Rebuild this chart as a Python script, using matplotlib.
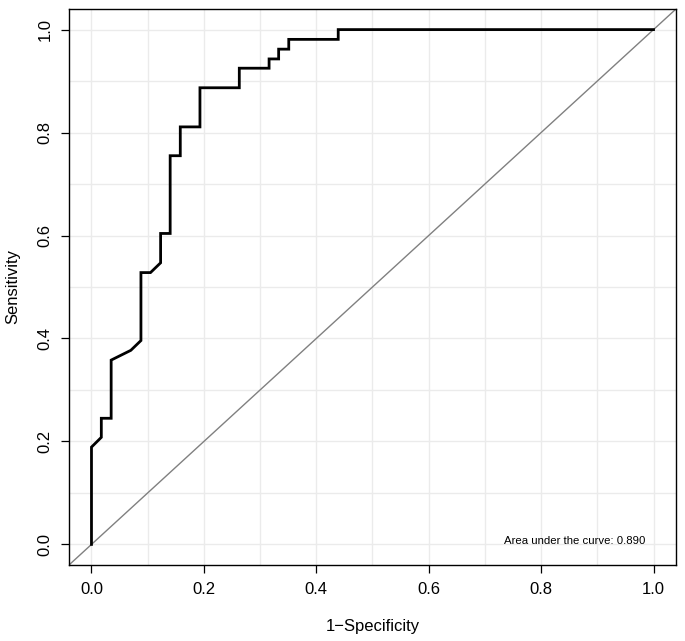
import matplotlib
matplotlib.use("Agg")
import matplotlib.pyplot as plt
import numpy as np

fpr = [0.0, 0.0, 0.0175, 0.0175, 0.035, 0.035, 0.070, 0.088, 0.088, 0.105, 0.123, 0.123,
       0.140, 0.140, 0.158, 0.158, 0.193, 0.193, 0.263, 0.263, 0.316, 0.316, 0.333, 0.333,
       0.351, 0.351, 0.439, 0.439, 1.0]
tpr = [0.0, 0.189, 0.208, 0.245, 0.245, 0.358, 0.377, 0.396, 0.528, 0.528, 0.547, 0.604,
       0.604, 0.755, 0.755, 0.811, 0.811, 0.887, 0.887, 0.925, 0.925, 0.943, 0.943, 0.962,
       0.962, 0.981, 0.981, 1.0, 1.0]
auc = 0.890
ticks = [0.0, 0.2, 0.4, 0.6, 0.8, 1.0]

plt.rcParams['font.family'] = ['Liberation Sans', 'DejaVu Sans']
fig = plt.figure(figsize=(6.85, 6.41), dpi=100)
ax = fig.add_axes([69/685, 1-565/641, (676-69)/685, (565-9)/641])
ax.set_xlim(-0.04, 1.04)
ax.set_ylim(-0.04, 1.04)

for g in np.arange(0, 1.01, 0.1):
    ax.axvline(g, color='#ebebeb', lw=1.0, zorder=0)
    ax.axhline(g, color='#ebebeb', lw=1.0, zorder=0)

ax.axline((0, 0), (1, 1), color='#808080', lw=1.0, zorder=1)
ax.plot(fpr, tpr, color='black', lw=2.0, zorder=2, solid_joinstyle='miter')

ax.set_xticks(ticks)
ax.set_yticks(ticks)
ax.set_xticklabels([f"{t:.1f}" for t in ticks])
ax.set_yticklabels([f"{t:.1f}" for t in ticks], rotation=90, va='center')
ax.tick_params(direction='out', length=6, width=0.9, labelsize=12, pad=6)
for s in ax.spines.values():
    s.set_linewidth(1.0)

ax.set_xlabel("1\u2212Specificity", fontsize=12, labelpad=16)
ax.set_ylabel("Sensitivity", fontsize=12, labelpad=12)

ax.text(0.986, 0.006, f"Area under the curve: {auc:.3f}", fontsize=8.2,
        ha='right', va='center')

fig.savefig("out.png", dpi=100)
